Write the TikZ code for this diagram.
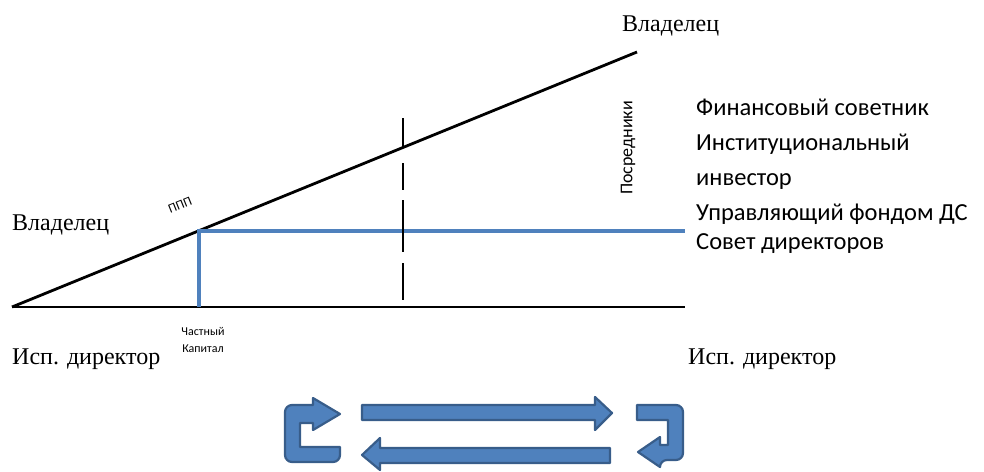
\documentclass[tikz,border=0pt]{standalone}
\usepackage{fontspec}
\setmainfont{Liberation Serif}
\newfontfamily\sansf{Carlito}
\definecolor{blueline}{HTML}{4F81BD}
\definecolor{bluefill}{HTML}{4F81BD}
\definecolor{blueedge}{HTML}{385D8A}
\begin{document}
\begin{tikzpicture}[x=1pt,y=-1pt,
  blk/.style={line width=2.8pt,black},
  bln/.style={line width=3.4pt,blueline},
  serif/.style={font=\fontsize{24}{28}\selectfont,inner sep=0pt,anchor=base west},
  sans/.style={font=\sansf\fontsize{24.5}{30}\selectfont,inner sep=0pt,anchor=base west},
  tiny/.style={font=\sansf\fontsize{12}{14}\selectfont,inner sep=0pt},
  bigarrow/.style={fill=bluefill,draw=blueedge,line width=2.2pt,line join=round}]
\useasboundingbox (0,0) rectangle (984,471);
% axes
\coordinate (O) at (12,307);
\coordinate (E) at (685,307);
\coordinate (T) at (637,52);
\coordinate (B1) at (199,307);
\coordinate (B2) at (199,231);
\coordinate (B3) at (685,231);
\coordinate (D1) at (403,118);
\coordinate (D2) at (403,300);
\draw[blk] (O) -- (E);
\draw[blk] (O) -- (T);
\draw[bln] (B1) -- (B2) -- (B3);
\draw[blk,dash pattern=on 29pt off 16pt on 27pt off 10pt on 52pt off 11pt on 37pt off 100pt] (D1) -- (D2);
% labels
\node[serif] (own1) at (622,31) {Владелец};
\node[serif] (own2) at (12,230) {Владелец};
\node[serif] (dir1) at (12,364) {Исп. директор};
\node[serif] (dir2) at (688,364) {Исп. директор};
\node[tiny,font=\sansf\fontsize{13}{15}\selectfont,rotate=22] (ppp) at (180,205) {ППП};
\node[tiny,font=\sansf\fontsize{18}{20}\selectfont,rotate=90] (posr) at (628,148) {Посредники};
\node[tiny] (ch1) at (203,331) {Частный};
\node[tiny] (ch2) at (203,349) {Капитал};
\node[sans] (r1) at (696,115) {Финансовый советник};
\node[sans] (r2) at (696,150) {Институциональный};
\node[sans] (r3) at (696,185) {инвестор};
\node[sans] (r4) at (696,220) {Управляющий фондом ДС};
\node[sans] (r5) at (696,249) {Совет директоров};
% block arrows
\draw[bigarrow] (362,405) -- (595,405) -- (595,397) -- (612,413) -- (595,430) -- (595,420) -- (362,420) -- cycle;
\draw[bigarrow] (610,448) -- (380,448) -- (380,438) -- (362,455) -- (380,470) -- (380,463) -- (610,463) -- cycle;
\draw[bigarrow] (340,447) -- (300,447) -- (300,423) -- (313,423) -- (313,430) -- (340,414) -- (313,398) -- (313,405)
  [rounded corners=7pt] -- (285,405) -- (285,462) -- (340,462) [sharp corners] -- cycle;
\draw[bigarrow] (637,420) -- (637,405) [rounded corners=7pt] -- (683,405) -- (683,460) -- (660,460) [sharp corners]
  -- (660,467) -- (638,452) -- (660,437) -- (660,445) -- (668,445) -- (668,420) -- cycle;
\end{tikzpicture}
\end{document}
